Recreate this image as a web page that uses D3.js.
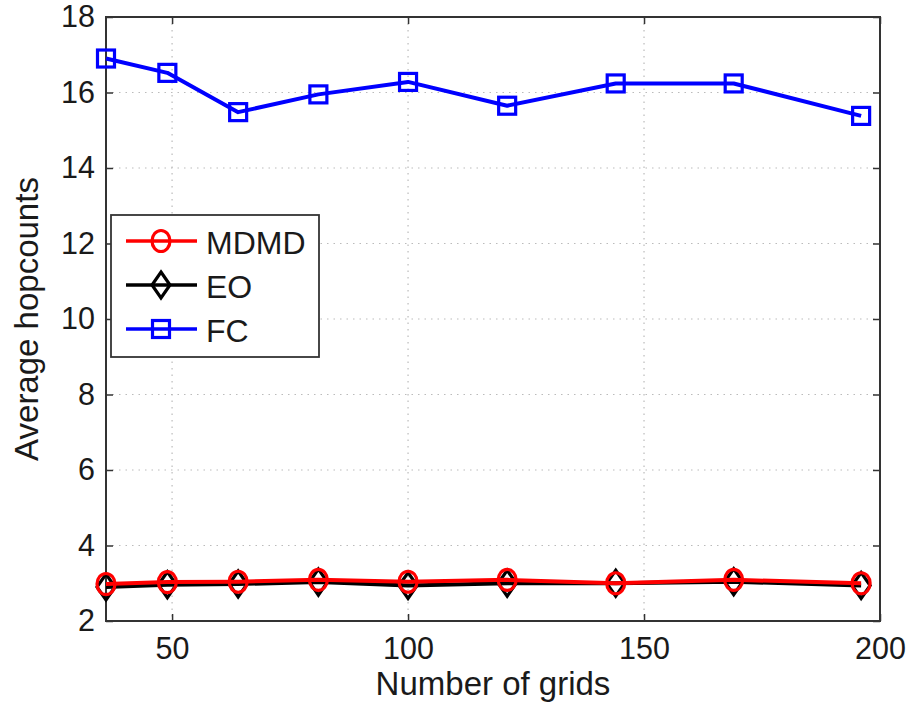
<!DOCTYPE html>
<html>
<head>
<meta charset="utf-8">
<script src="https://cdn.jsdelivr.net/npm/d3@7"></script>
<style>
  body { margin: 0; background: #fff; }
  svg text { font-family: "Liberation Sans", Arial, Helvetica, sans-serif; fill: #1a1a1a; }
</style>
</head>
<body>
<div class="container"></div>
<script>
// data
const grids = [36, 49, 64, 81, 100, 121, 144, 169, 196]
const mdmd = [2.98, 3.03, 3.04, 3.09, 3.04, 3.09, 3.0, 3.09, 3.0]
const eo = [2.9, 2.96, 2.98, 3.03, 2.94, 3.0, 3.0, 3.04, 2.94]
const fc = [16.9, 16.52, 15.48, 15.95, 16.28, 15.65, 16.24, 16.24, 15.38]
const xTicks = [50, 100, 150, 200]
const yTicks = [2, 4, 6, 8, 10, 12, 14, 16, 18]
const seriesNames = ["MDMD", "EO", "FC"]

const w = 910
const h = 704
const padLeft = 106, padRight = 880, padTop = 17, padBottom = 621

const svg = d3.select(".container")
              .append("svg")
              .attr("width", w)
              .attr("height", h)

const xScale = d3.scaleLinear().domain([36, 200]).range([padLeft, padRight])
const yScale = d3.scaleLinear().domain([2, 18]).range([padBottom, padTop])

// grid lines (dotted)
svg.append("g")
   .selectAll("line")
   .data(xTicks.filter(t => t < 200))
   .enter()
   .append("line")
   .attr("x1", d => xScale(d)).attr("x2", d => xScale(d))
   .attr("y1", padTop).attr("y2", padBottom)
   .attr("stroke", "#bbb").attr("stroke-width", 1.2)
   .attr("stroke-dasharray", "1.5,5")

svg.append("g")
   .selectAll("line")
   .data(yTicks.filter(t => t > 2 && t < 18))
   .enter()
   .append("line")
   .attr("y1", d => yScale(d)).attr("y2", d => yScale(d))
   .attr("x1", padLeft).attr("x2", padRight)
   .attr("stroke", "#bbb").attr("stroke-width", 1.2)
   .attr("stroke-dasharray", "1.5,5")

// axes with inward ticks, on all four sides
const tickFont = 30.5
const labelFont = 33
const legendFont = 32
const xAxis = d3.axisBottom(xScale).tickValues(xTicks).tickSizeInner(-7).tickSizeOuter(0).tickPadding(16)
const yAxis = d3.axisLeft(yScale).tickValues(yTicks).tickSizeInner(-7).tickSizeOuter(0).tickPadding(11)
const xTop = d3.axisTop(xScale).tickValues(xTicks).tickSizeInner(-7).tickSizeOuter(0).tickFormat("")
const yRight = d3.axisRight(yScale).tickValues(yTicks).tickSizeInner(-7).tickSizeOuter(0).tickFormat("")

const gx = svg.append("g").attr("transform", "translate(0," + padBottom + ")").call(xAxis)
const gy = svg.append("g").attr("transform", "translate(" + padLeft + ",0)").call(yAxis)
const gt = svg.append("g").attr("transform", "translate(0," + padTop + ")").call(xTop)
const gr = svg.append("g").attr("transform", "translate(" + padRight + ",0)").call(yRight)

;[gx, gy, gt, gr].forEach(g => {
    g.selectAll(".domain").remove()
    g.selectAll("line").attr("stroke", "#333").attr("stroke-width", 1.5)
    g.selectAll("text").style("font-size", tickFont + "px").attr("fill", "#1a1a1a")
})

// box
svg.append("rect")
   .attr("x", padLeft).attr("y", padTop)
   .attr("width", padRight - padLeft).attr("height", padBottom - padTop)
   .attr("fill", "none").attr("stroke", "#333").attr("stroke-width", 2)

// markers
const drawMarker = (g, type, color) => {
    if (type == "circle") {
        g.append("ellipse").attr("rx", 9).attr("ry", 10.5)
         .attr("fill", "none").attr("stroke", color).attr("stroke-width", 3.2)
    } else if (type == "diamond") {
        g.append("path").attr("d", "M0,-13L9,0L0,13L-9,0Z")
         .attr("fill", "none").attr("stroke", color).attr("stroke-width", 3.2)
    } else {
        g.append("rect").attr("x", -8.5).attr("y", -8.5).attr("width", 17).attr("height", 17)
         .attr("fill", "none").attr("stroke", color).attr("stroke-width", 3.2)
    }
}

const series = [
    { name: seriesNames[2], values: fc, color: "#0000ff", marker: "square" },
    { name: seriesNames[1], values: eo, color: "#000000", marker: "diamond" },
    { name: seriesNames[0], values: mdmd, color: "#ff0000", marker: "circle" }
]

const line = d3.line().x(d => xScale(d[0])).y(d => yScale(d[1]))

series.forEach(s => {
    const pts = grids.map((g, i) => [g, s.values[i]])
    svg.append("path")
       .datum(pts)
       .attr("d", line)
       .attr("fill", "none")
       .attr("stroke", s.color)
       .attr("stroke-width", 4)
       .attr("stroke-linejoin", "round")
    svg.append("g")
       .selectAll("g")
       .data(pts)
       .enter()
       .append("g")
       .attr("transform", d => "translate(" + xScale(d[0]) + "," + yScale(d[1]) + ")")
       .each(function () { drawMarker(d3.select(this), s.marker, s.color) })
})

// axis titles
svg.append("text")
   .attr("x", (padLeft + padRight) / 2)
   .attr("y", 695)
   .attr("text-anchor", "middle")
   .style("font-size", labelFont + "px")
   .text("Number of grids")

svg.append("text")
   .attr("transform", "translate(38," + ((padTop + padBottom) / 2) + ") rotate(-90)")
   .attr("text-anchor", "middle")
   .style("font-size", labelFont + "px")
   .text("Average hopcounts")

// legend
const legend = svg.append("g")
legend.append("rect")
      .attr("x", 111).attr("y", 215)
      .attr("width", 208).attr("height", 142)
      .attr("fill", "#fff").attr("stroke", "#333").attr("stroke-width", 1.8)

const legendItems = [series[2], series[1], series[0]]
legendItems.forEach((s, i) => {
    const y = 241 + i * 44
    legend.append("line")
          .attr("x1", 126).attr("x2", 197)
          .attr("y1", y).attr("y2", y)
          .attr("stroke", s.color).attr("stroke-width", 3.5)
    const m = legend.append("g").attr("transform", "translate(161," + y + ")")
    drawMarker(m, s.marker, s.color)
    legend.append("text")
          .attr("x", 206).attr("y", y + 13)
          .style("font-size", legendFont + "px")
          .text(s.name)
})
</script>
</body>
</html>
